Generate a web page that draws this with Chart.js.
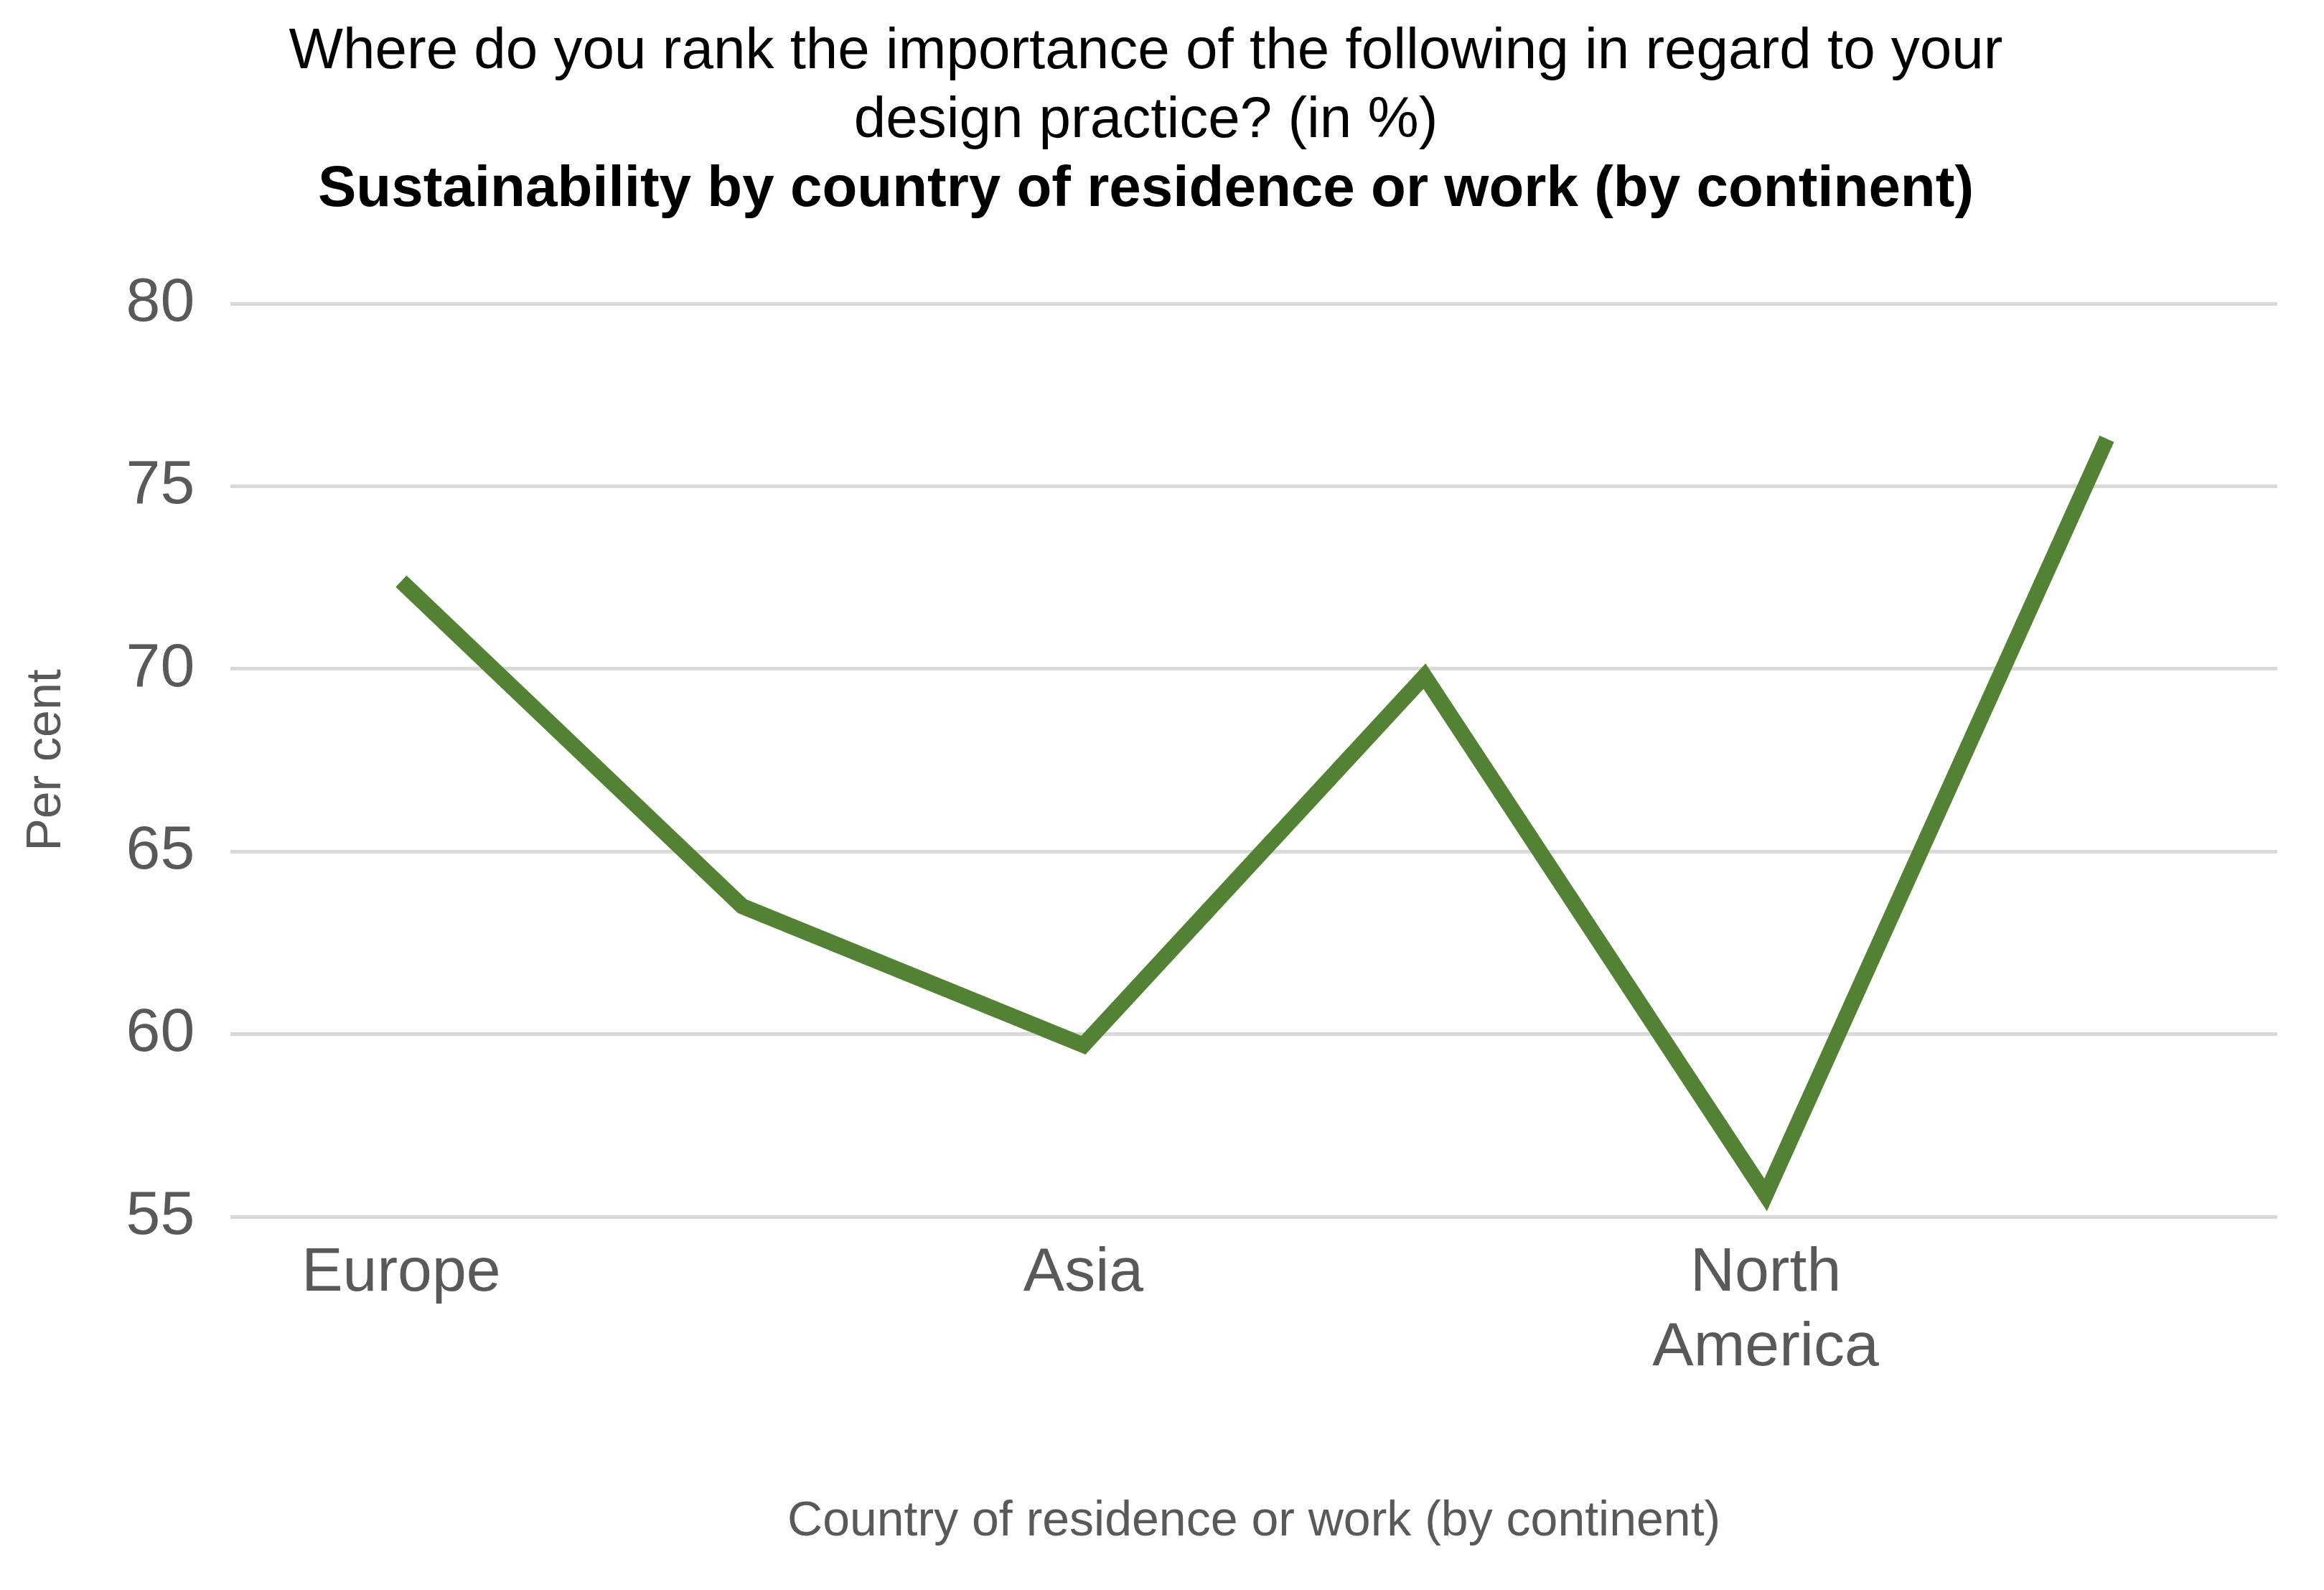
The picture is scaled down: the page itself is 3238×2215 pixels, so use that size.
<!DOCTYPE html>
<html><head><meta charset="utf-8">
<script src="https://cdn.jsdelivr.net/npm/chart.js@4/dist/chart.umd.min.js"></script>
<style>html,body{margin:0;padding:0;background:#fff}#wrap{width:3238px;height:2215px}</style>
</head><body><div id="wrap"><canvas id="c"></canvas></div>
<script>
const categories = [["Europe"],["Africa"],["Asia"],["Australia","and Oceania"],["North","America"],["South","America"]];
const values = [72.4, 63.5, 59.7, 69.8, 55.6, 76.3];
const yTicks = [55, 60, 65, 70, 75, 80];
const F = "'Liberation Sans', Arial, sans-serif";
new Chart(document.getElementById('c'), {
  type: 'line',
  data: { labels: categories, datasets: [{ data: values, borderColor: '#548235', borderWidth: 22, pointRadius: 0, tension: 0, fill: false }] },
  options: {
    responsive: true, maintainAspectRatio: false, animation: false,
    layout: { padding: { left: 20, right: 65, top: 25, bottom: 50 } },
    plugins: {
      legend: { display: false },
      tooltip: { enabled: false },
      title: { display: true, text: ["Where do you rank the importance of the following in regard to your", "design practice? (in %)"], color: '#000', font: { family: F, size: 80, weight: 'normal' }, padding: { top: 0, bottom: 0 }, lineHeight: 1.2 },
      subtitle: { display: true, text: "Sustainability by country of residence or work (by continent)", color: '#000', font: { family: F, size: 80, weight: 'bold' }, padding: { top: 0, bottom: 110 } }
    },
    scales: {
      x: { offset: true, grid: { display: false }, border: { display: false },
        ticks: { color: '#595959', font: { family: F, size: 86 }, padding: 20, maxRotation: 0 },
        title: { display: true, text: "Country of residence or work (by continent)", color: '#595959', font: { family: F, size: 68 }, padding: { top: 130 } } },
      y: { min: 55, max: 80, afterBuildTicks: a => { a.ticks = yTicks.map(v => ({ value: v })); },
        grid: { color: '#d9d9d9', lineWidth: 5, drawTicks: false }, border: { display: false },
        ticks: { color: '#595959', font: { family: F, size: 86 }, padding: 50 },
        title: { display: true, text: "Per cent", color: '#595959', font: { family: F, size: 68 }, padding: { bottom: 20 } } }
    }
  }
});
</script></body></html>
